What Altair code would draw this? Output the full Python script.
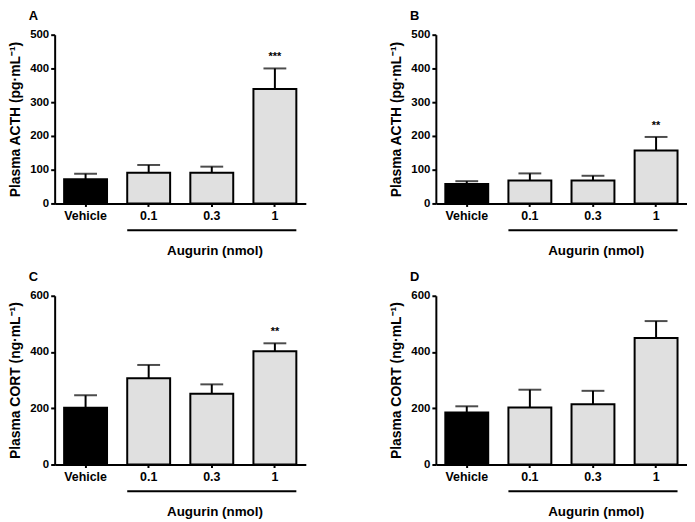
import altair as alt
import pandas as pd

groups = ["Vehicle", "0.1", "0.3", "1"]
kinds = ["Vehicle", "Augurin", "Augurin", "Augurin"]

acth_a = [72, 91, 91, 339]
acth_a_err = [88, 114, 109, 400]
sig_a = ["", "", "", "***"]

acth_b = [58, 68, 68, 157]
acth_b_err = [66, 89, 82, 197]
sig_b = ["", "", "", "**"]

cort_c = [202, 307, 252, 403]
cort_c_err = [246, 354, 285, 431]
sig_c = ["", "", "", "**"]

cort_d = [185, 203, 214, 450]
cort_d_err = [207, 266, 262, 510]
sig_d = ["", "", "", ""]

acth_title = "Plasma ACTH (pg·mL⁻¹)"
cort_title = "Plasma CORT (ng·mL⁻¹)"
x_title = "Augurin (nmol)"
bracket_start = ["0.1"]
bracket_end = ["1"]

FONT = "Liberation Sans"
W, H = 253, 170


def panel(letter, vals, errs, sig, ytitle, ymax, ystep):
    df = pd.DataFrame({"group": groups, "kind": kinds, "value": vals,
                       "err": errs, "sig": sig})
    xscale = alt.Scale(domain=groups, paddingInner=0.32, paddingOuter=0.15)
    xaxis = alt.Axis(title=x_title, labelAngle=0, labelPadding=3,
                     labelFontSize=12.5, titleFontSize=13.5,
                     labelFontWeight="bold", titleFontWeight="bold",
                     titleX=161, titleY=47, titleBaseline="middle",
                     tickSize=3, grid=False)
    yscale = alt.Scale(domain=[0, ymax], nice=False)
    yaxis = alt.Axis(title=ytitle, values=list(range(0, ymax + 1, ystep)),
                     labelOverlap=False, grid=False,
                     labelFontWeight="bold", titleFontWeight="bold",
                     titlePadding=7, labelFontSize=11.5, titleFontSize=14)

    def X(field="group"):
        return alt.X(f"{field}:N", scale=xscale, sort=groups, axis=xaxis)

    def Y(field):
        return alt.Y(f"{field}:Q", scale=yscale, axis=yaxis)

    base = alt.Chart(df)
    bars = base.mark_bar(stroke="black", strokeWidth=2).encode(
        x=X(), y=Y("value"),
        fill=alt.Fill("kind:N", scale=alt.Scale(domain=["Vehicle", "Augurin"],
                                                 range=["black", "#e0e0e0"]),
                      legend=None))
    stem = base.mark_rule(color="black", strokeWidth=2).encode(
        x=X(), y=Y("value"), y2="err:Q")
    cap = base.mark_tick(color="black", thickness=2, size=23).encode(
        x=X(), y=Y("err"))
    stars = base.mark_text(font=FONT, fontWeight="bold", fontSize=11,
                           baseline="bottom", dy=-6, color="black").encode(
        x=X(), y=Y("err"), text="sig:N")
    bdf = pd.DataFrame({"start": bracket_start, "end": bracket_end})
    bracket = alt.Chart(bdf).mark_rule(color="black", strokeWidth=2).encode(
        x=alt.X("start:N", scale=xscale, sort=groups, axis=xaxis, bandPosition=0),
        x2=alt.X2("end:N", bandPosition=1),
        y=alt.value(H + 27))
    return alt.layer(bars, stem, cap, stars, bracket).properties(
        width=W, height=H,
        title=alt.TitleParams(letter, anchor="start", frame="group", dx=-26,
                              offset=6, font=FONT, fontSize=13,
                              fontWeight="bold", color="black"))


pa = panel("A", acth_a, acth_a_err, sig_a, acth_title, 500, 100)
pb = panel("B", acth_b, acth_b_err, sig_b, acth_title, 500, 100)
pc = panel("C", cort_c, cort_c_err, sig_c, cort_title, 600, 200)
pd_ = panel("D", cort_d, cort_d_err, sig_d, cort_title, 600, 200)

chart = alt.vconcat(
    alt.hconcat(pa, pb, spacing=84),
    alt.hconcat(pc, pd_, spacing=84),
    spacing=14,
).properties(padding=0, background="white").configure_view(
    strokeWidth=0
).configure_axis(
    domainColor="black", domainWidth=2, tickColor="black", tickWidth=2,
    tickSize=4, labelFont=FONT, labelFontWeight="bold", labelColor="black",
    titleFont=FONT, titleFontWeight="bold", titleColor="black", grid=False,
)

chart.save("out.html", embed_options={"renderer": "svg", "actions": False})
